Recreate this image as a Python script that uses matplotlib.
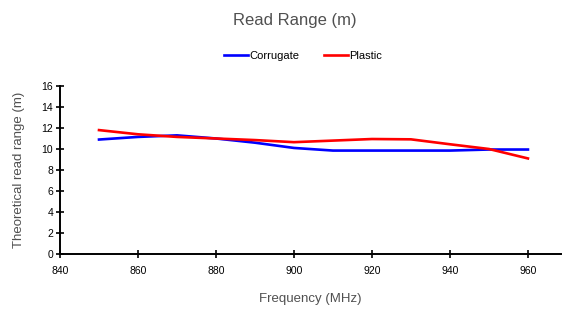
import matplotlib.pyplot as plt

freq = [850, 860, 870, 880, 890, 900, 910, 920, 930, 940, 950, 960]
corrugate = [10.9, 11.15, 11.3, 11.0, 10.6, 10.1, 9.85, 9.85, 9.85, 9.85, 9.95, 9.95]
plastic = [11.8, 11.4, 11.15, 11.0, 10.85, 10.65, 10.8, 10.95, 10.92, 10.45, 10.0, 9.1]
xticks = [840, 860, 880, 900, 920, 940, 960]
yticks = [0, 2, 4, 6, 8, 10, 12, 14, 16]

plt.rcParams['font.family'] = ['Liberation Sans', 'DejaVu Sans']

fig = plt.figure(figsize=(5.63, 3.09), dpi=100)
ax = fig.add_axes([0.1066, 0.178, 0.89, 0.5437])

ax.plot(freq, corrugate, color='#0000FF', lw=1.9, label='Corrugate')
ax.plot(freq, plastic, color='#FF0000', lw=1.9, label='Plastic')

ax.set_xlim(840, 968.5)
ax.set_ylim(0, 16)
ax.set_xticks(xticks)
ax.set_yticks(yticks)
ax.tick_params(direction='inout', length=6, width=1.2, labelsize=7.5, colors='black')
ax.tick_params(axis='x', pad=6)
ax.tick_params(axis='y', pad=2)
for s in ['top', 'right']:
    ax.spines[s].set_visible(False)
for s in ['left', 'bottom']:
    ax.spines[s].set_linewidth(1.4)

ax.set_xlabel('Frequency (MHz)', fontsize=9.5, color='#505050', labelpad=12)
ax.set_ylabel('Theoretical read range (m)', fontsize=9.5, color='#505050', labelpad=12)
fig.text(0.524, 0.935, 'Read Range (m)', ha='center', va='center', fontsize=12, color='#505050')
fig.legend(loc='center', bbox_to_anchor=(0.538, 0.818), ncol=2, frameon=False,
           fontsize=8, handlelength=2.2, handletextpad=0.1, columnspacing=2.2)

fig.savefig('out.png', dpi=100)
